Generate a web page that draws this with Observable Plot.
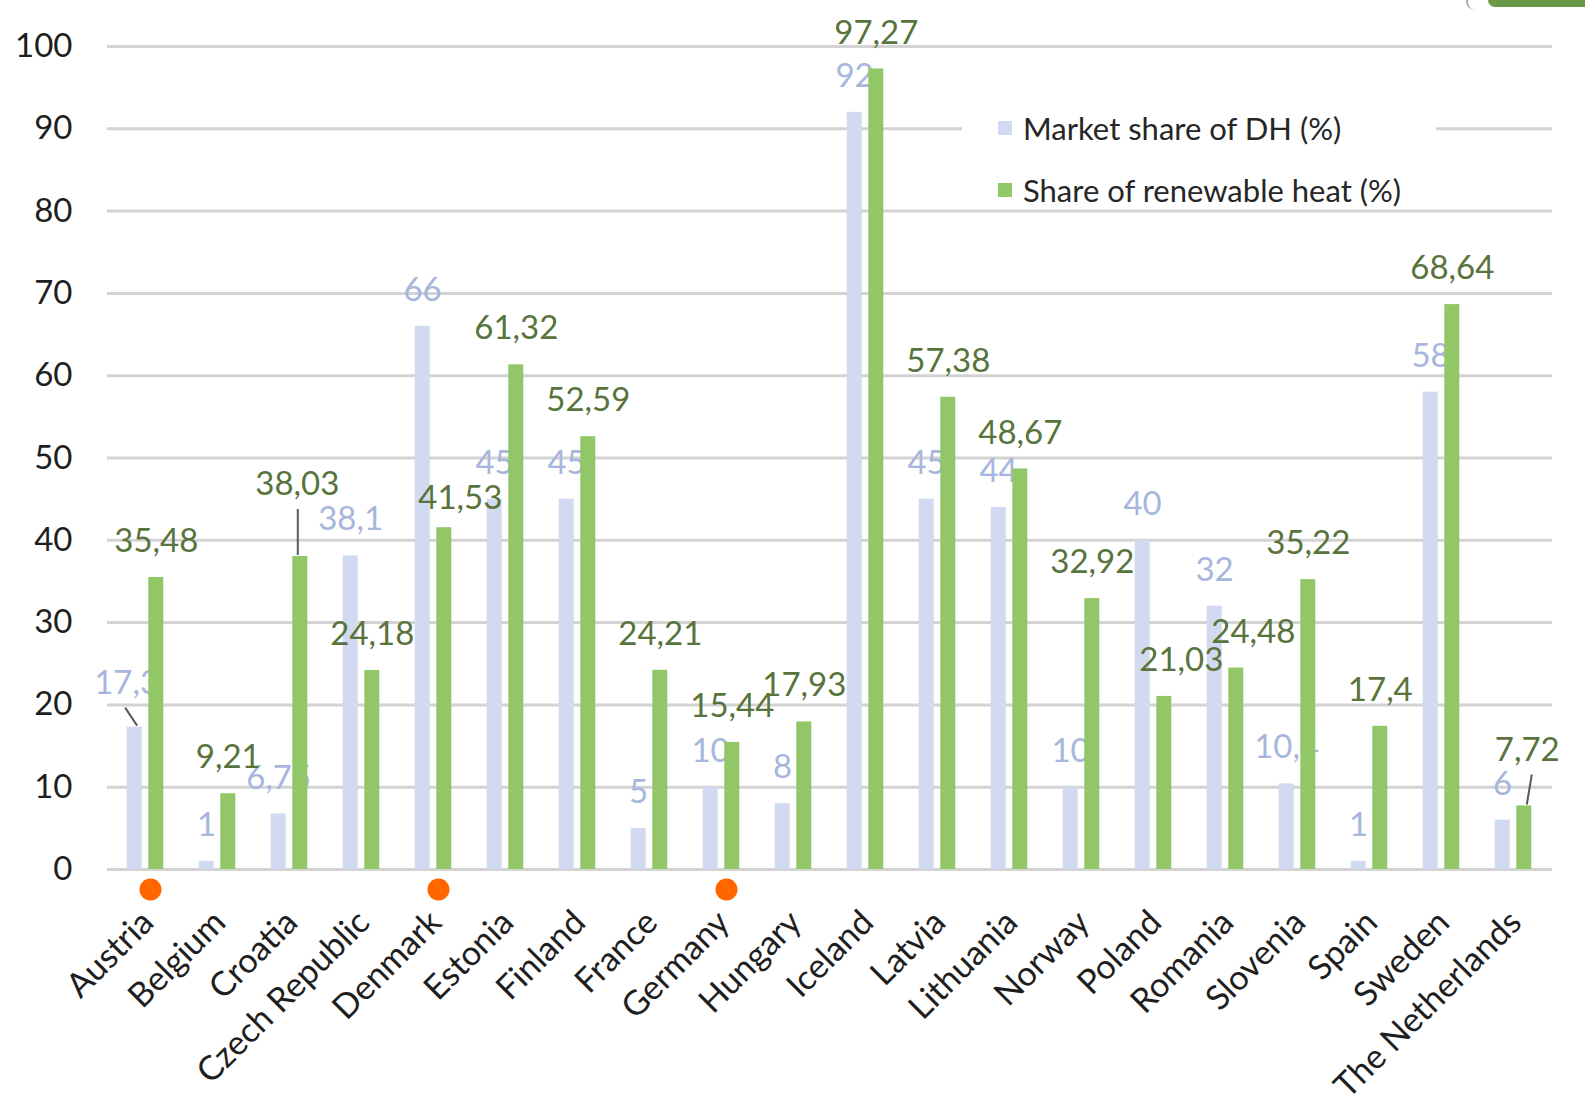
<!DOCTYPE html>
<html>
<head>
<meta charset="utf-8">
<script src="https://cdn.jsdelivr.net/npm/d3@7"></script>
<script src="https://cdn.jsdelivr.net/npm/@observablehq/plot@0.6"></script>
<style>
  body { margin: 0; background: #fff; font-family: Lato, "Open Sans", sans-serif; }
  #wrap { position: relative; width: 1585px; height: 1105px; overflow: hidden; background: #fff; }
  #chart svg { display: block; }
  .legend { position: absolute; left: 962px; top: 100px; width: 474px; height: 106px; background: #fff; }
  .legend .row { position: absolute; left: 36px; display: flex; align-items: center; font-size: 31px; color: #262626; white-space: nowrap; }
  .legend .sw { width: 14px; height: 14px; margin-right: 11px; }
  .corner { position: absolute; left: 1488px; top: 0; width: 97px; height: 7px; background: #6a9a48; border-bottom-left-radius: 7px; }
  .corner-arc { position: absolute; left: 1466px; top: -6px; width: 16px; height: 16px; border-left: 2px solid #aaa; border-radius: 50%; }
</style>
</head>
<body>
<div id="wrap">
  <div id="chart"></div>
  <div class="legend">
    <div class="row" style="top:9px"><span class="sw" id="sw-dh"></span><span id="lg-dh"></span></div>
    <div class="row" style="top:71px"><span class="sw" id="sw-re"></span><span id="lg-re"></span></div>
  </div>
  <div class="corner-arc"></div>
  <div class="corner"></div>
</div>
<script>
// Countries, in axis order
const countries = [
  "Austria", "Belgium", "Croatia", "Czech Republic", "Denmark", "Estonia", "Finland",
  "France", "Germany", "Hungary", "Iceland", "Latvia", "Lithuania", "Norway", "Poland",
  "Romania", "Slovenia", "Spain", "Sweden", "The Netherlands"
];

// Market share of district heating (%)
const marketShareDH = [17.3, 1, 6.75, 38.1, 66, 45, 45, 5, 10, 8, 92, 45, 44, 10, 40, 32, 10.4, 1, 58, 6];

// Share of renewable heat (%)
const renewableShare = [35.48, 9.21, 38.03, 24.18, 41.53, 61.32, 52.59, 24.21, 15.44, 17.93, 97.27, 57.38, 48.67, 32.92, 21.03, 24.48, 35.22, 17.4, 68.64, 7.72];

// Countries marked with a dot under the axis
const highlighted = ["Austria", "Denmark", "Germany"];

const seriesNames = { dh: "Market share of DH (%)", re: "Share of renewable heat (%)" };
const yTicks = [0, 10, 20, 30, 40, 50, 60, 70, 80, 90, 100];

// Colours
const blue = "#d2daf1", green = "#92c768";
const blueText = "#a7b6dc", greenText = "#58733b";

// Value labels that sit off their default spot (pixel nudges), some with a leader line
const labelNudges = [
  { country: "Austria", series: "dh", dx: -8, dy: -44, leader: [-9, 3] },
  { country: "Croatia", series: "re", dx: -3, dy: -72, leader: [-2, -2] },
  { country: "Denmark", series: "re", dx: 16, dy: -29 },
  { country: "Poland", series: "re", dx: 17, dy: -36 },
  { country: "Romania", series: "re", dx: 17, dy: -36 },
  { country: "The Netherlands", series: "re", dx: 3, dy: -56, leader: [8, 3] }
];

const rows = countries.map((country, i) => ({ country, dh: marketShareDH[i], re: renewableShare[i] }));
const fmt = v => String(v).replace(".", ",");

// Bar placement inside each 72px category band
const bars = {
  dh: { fill: blue, text: blueText, insetLeft: 18.7, insetRight: 38.3, shift: -9.9 },
  re: { fill: green, text: greenText, insetLeft: 40.3, insetRight: 16.7, shift: 11.8 }
};
const defaultDy = -36;
const nudgeOf = (key, country) => labelNudges.find(n => n.series === key && n.country === country);

function valueLabels(key) {
  const b = bars[key];
  const base = { x: "country", y: key, text: d => fmt(d[key]), fill: b.text, fontSize: 33 };
  const marks = [Plot.text(rows.filter(d => !nudgeOf(key, d.country)), { ...base, dx: b.shift, dy: defaultDy })];
  for (const n of labelNudges.filter(n => n.series === key)) {
    marks.push(Plot.text(rows.filter(d => d.country === n.country), { ...base, dx: b.shift + n.dx, dy: n.dy }));
  }
  return marks;
}

// Leader lines joining a displaced label to the top of its bar
function leaderLines(index, scales) {
  const x = scales.x, y = scales.y;
  const bw = x(countries[1]) - x(countries[0]);
  const g = d3.create("svg:g").attr("stroke", "#5a5a5a").attr("stroke-width", 2);
  for (const n of labelNudges.filter(n => n.leader)) {
    const d = rows.find(r => r.country === n.country);
    const barX = x(n.country) + bw / 2 + bars[n.series].shift;
    const top = y(d[n.series]);
    const labelY = top + n.dy;
    g.append("line")
      .attr("x1", barX + n.leader[0]).attr("y1", labelY + 25)
      .attr("x2", barX + n.leader[1]).attr("y2", top - 1);
  }
  return g.node();
}

const chart = Plot.plot({
  width: 1585,
  height: 1105,
  marginLeft: 108,
  marginRight: 37,
  marginTop: 46,
  marginBottom: 236,
  style: { fontFamily: "Lato, 'Open Sans', sans-serif", background: "#fff" },
  x: { domain: countries, padding: 0, axis: null },
  y: { domain: [0, 100] },
  marks: [
    Plot.ruleY(yTicks, { stroke: "#d3d3d3", strokeWidth: 3, insetRight: -4, insetLeft: -1 }),
    Plot.axisY({ ticks: yTicks, tickSize: 0, tickPadding: 36, fontSize: 33, fill: "#1e1e1e", label: null }),
    Plot.barY(rows, { x: "country", y: "dh", fill: bars.dh.fill, insetLeft: bars.dh.insetLeft, insetRight: bars.dh.insetRight }),
    ...valueLabels("dh"),
    Plot.barY(rows, { x: "country", y: "re", fill: bars.re.fill, insetLeft: bars.re.insetLeft, insetRight: bars.re.insetRight }),
    leaderLines,
    ...valueLabels("re"),
    Plot.text(countries, {
      x: d => d, frameAnchor: "bottom", text: d => d, rotate: -45, textAnchor: "end",
      dx: 11, dy: 55, fontSize: 34, fill: "#1e1e1e"
    }),
    Plot.dot(highlighted, { x: d => d, frameAnchor: "bottom", dx: 6, dy: 20, r: 11, fill: "#ff6600", stroke: "none" })
  ]
});
document.getElementById("chart").append(chart);

document.getElementById("sw-dh").style.background = blue;
document.getElementById("sw-re").style.background = green;
document.getElementById("lg-dh").textContent = seriesNames.dh;
document.getElementById("lg-re").textContent = seriesNames.re;
</script>
</body>
</html>
